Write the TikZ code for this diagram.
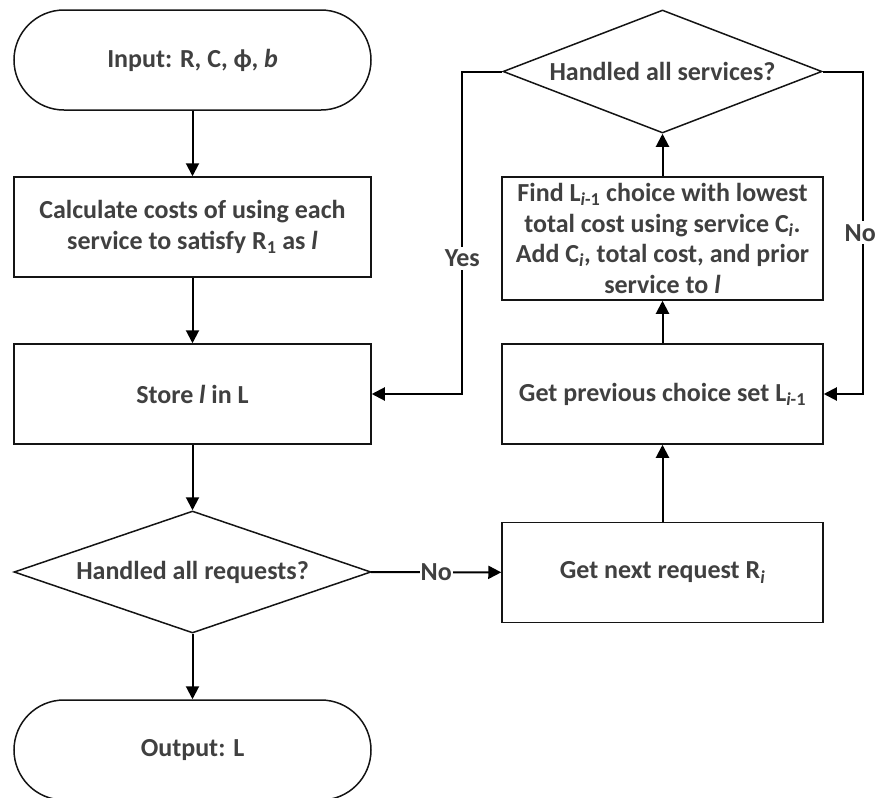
\documentclass[tikz,border=0pt]{standalone}
\usepackage{fontspec}
\setmainfont{Carlito}
\usetikzlibrary{arrows.meta, shapes.geometric}
\definecolor{TextGray}{RGB}{64,64,64}
\definecolor{EdgeDark}{RGB}{20,20,20}
\tikzset{
  every node/.style={text=TextGray, font=\fontsize{26}{30.5}\selectfont\bfseries},
  procbox/.style={draw=EdgeDark, line width=1.5pt, align=center, inner sep=0pt,
    minimum width=357pt, minimum height=100pt},
  rightbox/.style={procbox, minimum width=321pt},
  termbox/.style={procbox, rounded corners=50pt},
  decision/.style={diamond, draw=EdgeDark, line width=1.5pt, inner sep=0pt, shape aspect=2.6},
  flow/.style={draw=black, line width=2pt, -{Triangle[length=13pt,width=13pt]}},
  lbl/.style={fill=white, inner xsep=1pt, inner ysep=3pt}
}
\begin{document}
\begin{tikzpicture}[x=1pt,y=-1pt]
  \useasboundingbox (0,0) rectangle (876,798);
  \node[termbox] (input) at (192.5,60) {Input: R, C, ϕ, \textit{b}};
  \node[procbox] (calc) at (192.5,227) {Calculate costs of using each\\service to satisfy R\textsubscript{1} as \textit{l}};
  \node[procbox] (store) at (192.5,394) {Store \textit{l} in L};
  \node[decision, minimum width=357pt, minimum height=122pt] (reqs) at (192.5,572) {Handled all requests?};
  \node[termbox] (output) at (192.5,750) {Output: L};
  \node[rightbox] (next) at (662.5,572.5) {Get next request R\textsubscript{\textit{i}}};
  \node[rightbox] (prev) at (662.5,394) {Get previous choice set L\textsubscript{\textit{i}-1}};
  \node[rightbox, minimum height=123pt] (find) at (662.5,238.5) {Find L\textsubscript{\textit{i}-1} choice with lowest\\total cost using service C\textsubscript{\textit{i}}.\\Add C\textsubscript{\textit{i}}, total cost, and prior\\service to \textit{l}};
  \node[decision, minimum width=319pt, minimum height=123pt] (svcs) at (662.5,71.5) {Handled all services?};
  \draw[flow] (input) -- (calc);
  \draw[flow] (calc) -- (store);
  \draw[flow] (store) -- (reqs);
  \draw[flow] (reqs) -- (output);
  \draw[flow] (reqs) -- node[lbl]{No} (next);
  \draw[flow] (next) -- (prev);
  \draw[flow] (prev) -- (find);
  \draw[flow] (find) -- (svcs);
  \draw[flow] (svcs.west) -- ++(-40,0) |- node[lbl, pos=0.29]{Yes} (store.east);
  \draw[flow] (svcs.east) -- ++(40,0) |- node[lbl, pos=0.25, xshift=-2.5pt]{No} (prev.east);
\end{tikzpicture}
\end{document}
